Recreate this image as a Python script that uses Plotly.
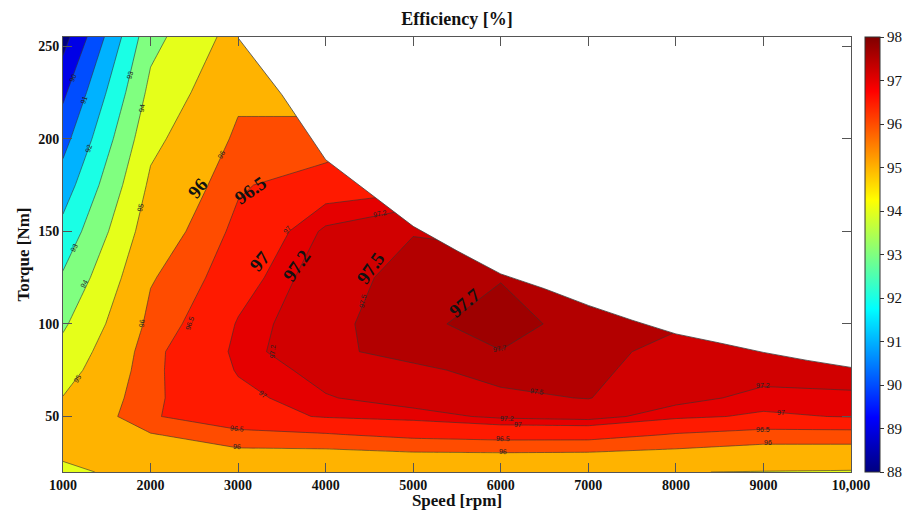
import numpy as np
import plotly.graph_objects as go

# ---------------------------------------------------------------- data
speed = [1000, 2000, 3000, 4000, 5000, 6000, 7000, 8000, 9000, 10000]      # rpm
torque = [20, 30, 40, 50, 60, 75, 85, 100, 125, 150, 175, 200, 225, 255]  # Nm

# efficiency [%], one list per torque row, columns follow `speed`
eff_t20 = [94.80, 95.35, 95.50, 95.50, 95.50, 95.50, 95.50, 95.02, 94.97, 94.93]
eff_t30 = [95.15, 95.60, 95.85, 95.85, 95.95, 95.97, 95.95, 95.85, 95.70, 95.70]
eff_t40 = [95.40, 95.95, 96.35, 96.45, 96.62, 96.70, 96.70, 96.45, 96.30, 96.30]
eff_t50 = [95.25, 96.45, 96.85, 97.03, 97.10, 97.25, 97.30, 97.07, 96.95, 97.02]
eff_t60 = [95.03, 96.42, 96.90, 97.18, 97.32, 97.45, 97.51, 97.28, 97.13, 97.15]
eff_t75 = [94.59, 96.40, 97.03, 97.30, 97.45, 97.58, 97.56, 97.37, 97.30, 97.33]
eff_t85 = [94.30, 96.38, 97.08, 97.45, 97.58, 97.69, 97.55, 97.45, 97.40, 97.38]
eff_t100 = [93.86, 96.20, 97.03, 97.45, 97.60, 97.86, 97.53, 97.52, 97.45, 97.40]
eff_t125 = [93.12, 95.94, 96.83, 97.40, 97.58, 97.68, 97.45, 97.40, 97.40, 97.35]
eff_t150 = [92.31, 95.56, 96.65, 97.25, 97.49, 97.40, 97.20, 97.20, 97.20, 97.20]
eff_t175 = [91.48, 95.18, 96.43, 96.83, 96.90, 97.10, 97.00, 97.00, 97.00, 97.00]
eff_t200 = [90.64, 94.75, 96.14, 96.14, 96.70, 96.80, 96.70, 96.70, 96.70, 96.70]
eff_t225 = [89.80, 94.27, 95.85, 95.85, 96.40, 96.40, 96.40, 96.40, 96.40, 96.40]
eff_t255 = [88.60, 93.68, 95.42, 95.30, 96.00, 96.00, 96.00, 96.00, 96.00, 96.00]

# maximum torque envelope of the machine
limit_speed = [3000, 3500, 4000, 4500, 5000, 5500, 6000, 6500, 7000, 7500,
               8000, 8500, 9000, 9500, 10000]
limit_torque = [254.5, 223.8, 188.7, 170.6, 152.7, 139.5, 127.0, 119.0, 110.0,
                102.0, 94.6, 89.7, 84.6, 80.3, 76.5]

# contour levels (non-uniform spacing near the peak)
levels = [89, 90, 91, 92, 93, 94, 95, 96, 96.5, 97, 97.2, 97.5, 97.7]
cbar_min, cbar_max = 88, 98
cbar_ticks = list(range(88, 99))

speed_ticks = [1000, 2000, 3000, 4000, 5000, 6000, 7000, 8000, 9000, 10000]
speed_tick_labels = ['1000', '2000', '3000', '4000', '5000', '6000', '7000',
                     '8000', '9000', '10,000']
torque_ticks = [50, 100, 150, 200, 250]

eff = np.array([eff_t20, eff_t30, eff_t40, eff_t50, eff_t60, eff_t75, eff_t85,
                eff_t100, eff_t125, eff_t150, eff_t175, eff_t200, eff_t225,
                eff_t255])


# ---------------------------------------------------------------- colours
def jet(v):
    x = (v - cbar_min) / (cbar_max - cbar_min)
    r = np.clip(1.5 - abs(4 * x - 3), 0, 1)
    g = np.clip(1.5 - abs(4 * x - 2), 0, 1)
    b = np.clip(1.5 - abs(4 * x - 1), 0, 1)
    return f'rgb({int(round(r * 255))},{int(round(g * 255))},{int(round(b * 255))})'


jet_scale = [[k / 40, jet(cbar_min + (cbar_max - cbar_min) * k / 40)] for k in range(41)]

SERIF = 'Liberation Serif'
fig = go.Figure()

# filled bands: each trace paints the region at or above its level
for lv in [cbar_min] + levels:
    fig.add_trace(go.Contour(
        x=speed, y=torque, z=eff,
        autocontour=False,
        contours=dict(start=lv, end=lv, size=1, coloring='fill', showlines=False),
        colorscale=[[0, 'rgba(0,0,0,0)'], [1, jet(lv)]],
        showscale=False, line=dict(width=0, smoothing=0),
        hoverinfo='skip',
    ))

# iso-efficiency lines
for lv in levels:
    fig.add_trace(go.Contour(
        x=speed, y=torque, z=eff,
        autocontour=False,
        contours=dict(start=lv, end=lv, size=1, coloring='none', showlabels=False),
        line=dict(color='#333', width=0.6, smoothing=0),
        showscale=False, hoverinfo='skip',
    ))

# blank out the region above the torque envelope
y_top = 300
fig.add_trace(go.Scatter(
    x=limit_speed + [limit_speed[-1], limit_speed[0]],
    y=limit_torque + [y_top, y_top],
    fill='toself', fillcolor='white', mode='lines', line=dict(width=0),
    hoverinfo='skip', showlegend=False,
))
fig.add_trace(go.Scatter(
    x=limit_speed, y=limit_torque, mode='lines',
    line=dict(color='#444', width=0.8), hoverinfo='skip', showlegend=False,
))

# colour bar
fig.add_trace(go.Scatter(
    x=[speed[0]], y=[torque[0]], mode='markers',
    marker=dict(color=[cbar_min], cmin=cbar_min, cmax=cbar_max, colorscale=jet_scale,
                opacity=0, size=1, showscale=True,
                colorbar=dict(x=(865 - 63) / 788, xanchor='left', xpad=0,
                              y=0.5, yanchor='middle', len=1, ypad=0,
                              thickness=15, outlinewidth=1, outlinecolor='#333',
                              tickvals=cbar_ticks, ticks='outside', ticklen=4,
                              tickcolor='#333',
                              tickfont=dict(family=SERIF, size=15, color='#111'))),
    hoverinfo='skip', showlegend=False,
))

# small in-line level labels: (text, speed, torque, angle)
small_labels = [
    ('90', 1118, 233.0, -68), ('91', 1243, 221.1, -70), ('92', 1289, 195.0, -72),
    ('93', 1768, 234.6, -75), ('94', 1905, 216.7, -80), ('93', 1129, 141.3, -60),
    ('94', 1243, 121.8, -60), ('95', 1163, 70.7, -58), ('95', 1882, 163.0, -75),
    ('96', 2807, 191.7, -60), ('96', 1905, 100.5, -85), ('96.5', 2453, 100.5, -72),
    ('97', 3560, 151.0, -50), ('97.2', 4622, 159.6, -12), ('97.5', 4428, 112.4, -78),
    ('97.2', 3389, 85.3, -85), ('97', 3286, 62.0, 38), ('96.5', 2990, 43.5, 6),
    ('96', 2990, 33.7, 3), ('97.7', 5992, 86.5, -10), ('97.5', 6415, 63.6, 8),
    ('97.2', 6072, 49.0, 2), ('97', 6198, 45.8, 2), ('96.5', 6027, 38.2, 2),
    ('96', 6027, 31.2, 2), ('97.2', 8995, 66.9, 0), ('97', 9200, 52.2, 0),
    ('96.5', 8995, 43.0, 0), ('96', 9052, 35.9, 0),
]
for t, sx, sy, ang in small_labels:
    fig.add_annotation(x=sx, y=sy, text=t, showarrow=False, textangle=ang,
                       font=dict(family='Liberation Sans', size=7, color='#222'))

# large level labels
big_text = ['96', '96.5', '97', '97.2', '97.5', '97.7']
big_x = [2533, 3140, 3255, 3670, 4508, 5592]
big_y = [173.3, 172.0, 134.0, 131.5, 130.0, 111.4]
big_angle = [-50, -35, -50, -55, -55, -40]
for t, bx, by, ang in zip(big_text, big_x, big_y, big_angle):
    fig.add_annotation(x=bx, y=by, text=t, showarrow=False, textangle=ang,
                       font=dict(family=SERIF, size=19, color='#111', weight='bold'))

axis_common = dict(ticks='inside', ticklen=9, tickcolor='#555', showline=True,
                   linecolor='#555', linewidth=1, mirror='ticks', showgrid=False,
                   zeroline=False, automargin=False,
                   tickfont=dict(family=SERIF, size=14, color='#111', weight='bold'))

fig.update_xaxes(range=[1000, 10000], tickvals=speed_ticks, ticktext=speed_tick_labels,
                 title=dict(text='Speed [rpm]', standoff=3,
                            font=dict(family=SERIF, size=17, color='#111', weight='bold')),
                 **axis_common)
fig.update_yaxes(range=[20, 255], tickvals=torque_ticks,
                 title=dict(text='Torque [Nm]', standoff=4,
                            font=dict(family=SERIF, size=17, color='#111', weight='bold')),
                 **axis_common)

fig.update_layout(
    width=903, height=510,
    margin=dict(l=63, r=52, t=37, b=38, pad=0, autoexpand=False),
    paper_bgcolor='white', plot_bgcolor='white',
    showlegend=False, hovermode=False,
    title=dict(text='Efficiency [%]', x=0.5, xref='paper', xanchor='center',
               y=1 - 19 / 510, yref='container', yanchor='middle',
               font=dict(family=SERIF, size=18, color='#111', weight='bold')),
)

fig.write_html('out.html')
